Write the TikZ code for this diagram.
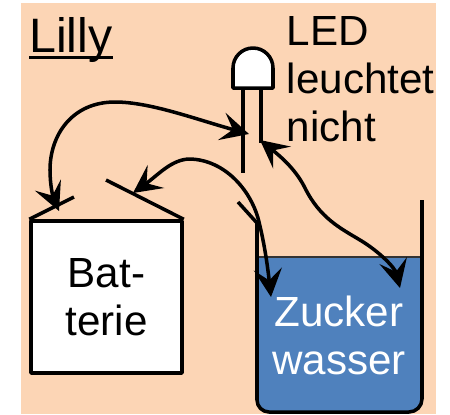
\documentclass[tikz,border=0pt]{standalone}
\usepackage{fontspec}
\setmainfont{Liberation Sans}
\usetikzlibrary{arrows.meta}
\definecolor{peach}{HTML}{FCD5B5}
\definecolor{zucker}{HTML}{4F81BD}
\tikzset{
  wire/.style={line width=2pt},
  flow/.style={line width=2pt, {Stealth[length=16pt,width=16pt,inset=6.5pt]}-{Stealth[length=16pt,width=16pt,inset=6.5pt]}},
  bigtext/.style={font=\fontsize{24}{27.3}\selectfont, inner sep=0pt, align=center}
}
\begin{document}
\begin{tikzpicture}[x=0.02cm, y=-0.02cm, line join=round]
  \useasboundingbox (0,0) rectangle (450,414);
  \fill [peach] (21,3) rectangle (436,414);

  % water and beaker
  \fill [zucker] (257,257) -- (421,257) -- (421,400) arc (0:90:13) -- (270,413) arc (90:180:13) -- cycle;
  \draw [line width=1pt, black!80] (257,257) -- (421,257);
  \coordinate (spout) at (238,202);
  \coordinate (rim) at (422,200);
  \draw [wire] (spout) -- (257,223) -- (257,400) arc (180:90:12) -- (409,412) arc (90:0:13) -- (rim);
  \node [bigtext, text=white] (wasser) at (339,335) {Zucker\\wasser};

  % battery
  \node [draw, wire, fill=white, minimum width=3.02cm, minimum height=3.04cm, bigtext] (batterie) at (106.5,297) {Bat-\\terie};
  \coordinate (plus) at (74,197);
  \coordinate (minus) at (106,180);
  \draw [wire] (batterie.north west) -- (plus);
  \draw [wire] (batterie.north east) -- (minus);

  % LED
  \draw [wire, fill=white] (233,88) -- (233,68) arc (180:360:20) -- (273,88) -- cycle;
  \coordinate (ledbase) at (243,88);
  \coordinate (ledfoot) at (261,88);
  \coordinate (legleft) at (243,173);
  \coordinate (legright) at (261,143);
  \draw [wire] (ledbase) -- (legleft);
  \draw [wire] (ledfoot) -- (legright);

  \node [inner sep=0pt, anchor=base west, font=\fontsize{27.5}{30}\selectfont] (lilly) at (29,52) {Lilly};
  \draw [line width=2pt] ([yshift=-3.2pt]lilly.base west) -- ([yshift=-3.2pt]lilly.base east);
  \node [bigtext, align=left, anchor=north west] (ledtext) at (286.5,16) {LED\\leuchtet\\nicht};

  % current
  \coordinate (tipa) at (249,134);
  \coordinate (tipb) at (59,211);
  \coordinate (tipc) at (133,193);
  \coordinate (tipd) at (271,297);
  \coordinate (tipe) at (260,140);
  \coordinate (tipf) at (400,288);
  \draw [flow] (tipa) .. controls (195,119) and (150,102) .. (115,102) .. controls (72,102) and (50,135) .. (50,170) .. controls (50,185) and (53,197) .. (tipb);
  \draw [flow] (tipc) .. controls (158,175) and (172,159) .. (190,159) .. controls (225,160) and (250,190) .. (258,218) .. controls (265,245) and (268,270) .. (tipd);
  \draw [flow] (tipe) .. controls (285,160) and (297,172) .. (305,188) .. controls (320,218) and (340,228) .. (360,240) .. controls (380,252) and (395,268) .. (tipf);
\end{tikzpicture}
\end{document}
